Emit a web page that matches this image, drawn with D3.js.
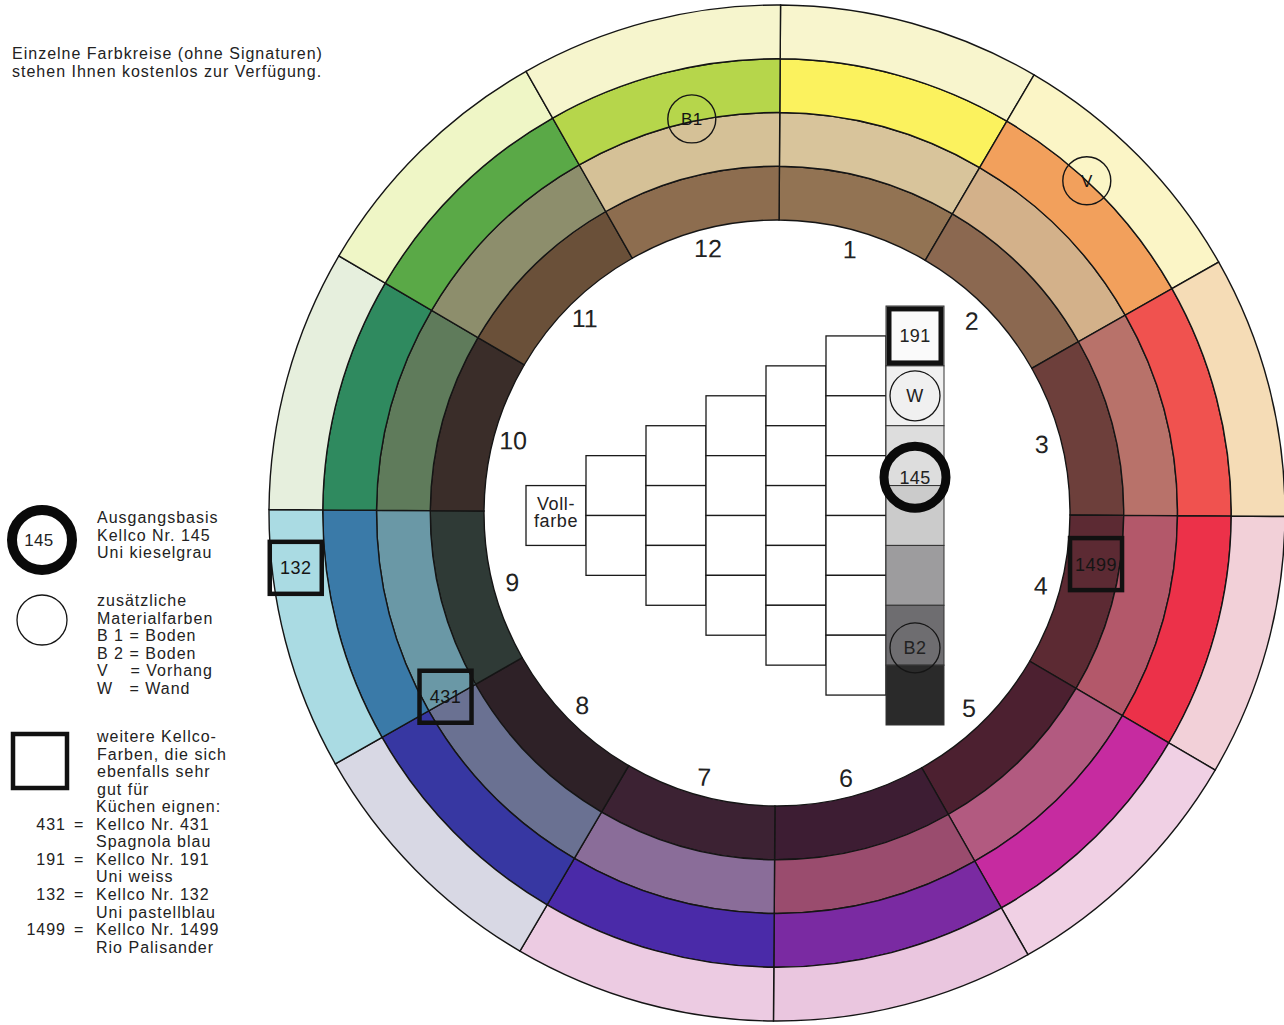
<!DOCTYPE html>
<html>
<head>
<meta charset="utf-8">
<script src="https://cdn.jsdelivr.net/npm/d3@7"></script>
<style>
  body { margin: 0; background: #fff; }
  text { font-family: "Liberation Sans", Arial, sans-serif; fill: #222; }
</style>
</head>
<body>
<div id="chart"></div>
<script>
/* globals d3 */
// segment labels, clockwise from the top
var hourLabels = ['1', '2', '3', '4', '5', '6', '7', '8', '9', '10', '11', '12'];

// ring colours, one per segment (inner ring first)
var darkColors   = ['#927353', '#8b6850', '#6d3f3b', '#5c2a33', '#4c2030', '#3d1d33', '#3c2233', '#2e2127', '#2f3a36', '#3a2d29', '#6a5039', '#8d6d4f'];
var mutedColors  = ['#d8c49b', '#d3b18a', '#b8726a', '#b3586a', '#b25a80', '#9a4c6e', '#8a6d99', '#6a7192', '#6a98a6', '#5f7b5b', '#8d8e6c', '#d5c197'];
var fullColors   = ['#fbf25e', '#f2a05c', '#f0524f', '#ec3149', '#c62ba0', '#7a2aa2', '#4a2aa8', '#3737a2', '#3a7aa8', '#2f8a5f', '#5aa947', '#b6d64b'];
var pastelColors = ['#f8f5cd', '#fbf5c6', '#f5dcb6', '#f2d0d8', '#f0d0e4', '#eac6df', '#eccbe2', '#d8d8e4', '#aadbe3', '#e6efdd', '#eff6c6', '#f6f5cd'];
var rings = [darkColors, mutedColors, fullColors, pastelColors];

// grey scale of the stair
var greySteps = ['#f9f9f9', '#f0f0f0', '#dddddd', '#cbcbcb', '#9d9c9e', '#6e6d70', '#2a2a2a'];
var stairCounts = [1, 2, 3, 4, 5, 6];

// signatures on the wheel: hour position, ring position
var wheelMarks = [
  {label: 'B1', shape: 'circle', hour: 11.58, ring: 2.05},
  {label: 'V', shape: 'circle', hour: 1.42, ring: 3.0},
  {label: '132', shape: 'square', hour: 8.77, ring: 3.56},
  {label: '431', shape: 'square', hour: 8.02, ring: 1.6},
  {label: '1499', shape: 'square', hour: 3.29, ring: 0.56}
];
// signatures on the grey scale: step position
var greyMarks = [
  {label: '191', shape: 'square', step: 0.5},
  {label: 'W', shape: 'circle', step: 1.5},
  {label: '145', shape: 'ring', step: 2.86},
  {label: 'B2', shape: 'circle', step: 5.71}
];

var W = 1284, H = 1025;
var svg = d3.select('#chart').append('svg')
    .attr('width', W).attr('height', H);

// ---- wheel ----
var cx = 777, cy = 513;
var angle = d3.scaleLinear().domain([0, 12]).range([0, 2 * Math.PI]);
var radius = d3.scaleLinear().domain([0, 4]).range([293, 508]);

var wheel = svg.append('g')
    .attr('transform', 'translate(' + cx + ',' + cy + ') rotate(0.4)');

var arc = d3.arc();
rings.forEach(function(colors, r){
  wheel.selectAll(null)
    .data(colors)
    .enter().append('path')
    .attr('d', function(c, i){
      return arc({innerRadius: radius(r), outerRadius: radius(r + 1),
                  startAngle: angle(i), endAngle: angle(i + 1)});
    })
    .attr('fill', function(c){ return c; })
    .attr('stroke', '#151515')
    .attr('stroke-width', 1.4);
});

// hour numbers
var labelR = radius(-0.36);
wheel.selectAll('.hour')
  .data(hourLabels)
  .enter().append('text')
  .attr('class', 'hour')
  .attr('x', function(d, i){ return labelR * Math.sin(angle(i + 0.5)); })
  .attr('y', function(d, i){ return -labelR * Math.cos(angle(i + 0.5)) + 9; })
  .attr('text-anchor', 'middle')
  .attr('font-size', 25)
  .text(function(d){ return d; });

function polar(h, r){
  var a = angle(h), rr = radius(r);
  return [rr * Math.sin(a), -rr * Math.cos(a)];
}

var wm = wheel.selectAll('.wmark').data(wheelMarks).enter().append('g')
  .attr('class', 'wmark')
  .attr('transform', function(d){ var p = polar(d.hour, d.ring); return 'translate(' + p[0] + ',' + p[1] + ') rotate(-0.4)'; });
wm.filter(function(d){ return d.shape === 'circle'; })
  .append('circle').attr('r', 24).attr('fill', 'none').attr('stroke', '#151515').attr('stroke-width', 1.4);
wm.filter(function(d){ return d.shape === 'square'; })
  .append('rect').attr('x', -26).attr('y', -26).attr('width', 52).attr('height', 52)
  .attr('fill', 'none').attr('stroke', '#111').attr('stroke-width', 4.5);
wm.append('text')
  .attr('text-anchor', 'middle').attr('y', 6.5)
  .attr('font-size', function(d){ return d.shape === 'square' ? 18 : 17; })
  .attr('letter-spacing', 0.5)
  .style('fill', '#151515')
  .text(function(d){ return d.label; });

// ---- stair of boxes ----
var colX = d3.scaleLinear().domain([0, 7]).range([526, 946]);
var rowY = d3.scaleLinear().domain([-3.5, 3.5]).range([306, 725]);
var stair = svg.append('g');

stairCounts.forEach(function(n, k){
  stair.selectAll(null)
    .data(d3.range(n))
    .enter().append('rect')
    .attr('x', colX(k))
    .attr('y', function(j){ return rowY(-n / 2 + j); })
    .attr('width', colX(k + 1) - colX(k))
    .attr('height', rowY(1) - rowY(0))
    .attr('fill', '#fff')
    .attr('stroke', '#1a1a1a')
    .attr('stroke-width', 1.3);
});

var gx = colX(6), gw = colX(7) - colX(6) - 2;
stair.selectAll('.grey')
  .data(greySteps)
  .enter().append('rect')
  .attr('class', 'grey')
  .attr('x', gx)
  .attr('y', function(d, j){ return rowY(-3.5 + j); })
  .attr('width', gw)
  .attr('height', rowY(1) - rowY(0))
  .attr('fill', function(d){ return d; })
  .attr('stroke', '#333')
  .attr('stroke-width', 1);

stair.append('text').attr('x', colX(0.5)).attr('y', rowY(-0.1)).attr('text-anchor', 'middle')
  .attr('font-size', 18).attr('letter-spacing', 0.6).text('Voll-');
stair.append('text').attr('x', colX(0.5)).attr('y', rowY(0.2)).attr('text-anchor', 'middle')
  .attr('font-size', 18).attr('letter-spacing', 0.6).text('farbe');

var gm = stair.selectAll('.gmark').data(greyMarks).enter().append('g')
  .attr('transform', function(d){ return 'translate(' + (gx + gw / 2) + ',' + rowY(-3.5 + d.step) + ')'; });
gm.filter(function(d){ return d.shape === 'circle'; })
  .append('circle').attr('r', 25).attr('fill', 'none').attr('stroke', '#151515').attr('stroke-width', 1.3);
gm.filter(function(d){ return d.shape === 'ring'; })
  .append('circle').attr('r', 31).attr('fill', 'none').attr('stroke', '#0a0a0a').attr('stroke-width', 9);
gm.filter(function(d){ return d.shape === 'square'; })
  .append('rect').attr('x', -26).attr('y', -27).attr('width', 52).attr('height', 54)
  .attr('fill', '#fafafa').attr('stroke', '#111').attr('stroke-width', 5);
gm.append('text').attr('text-anchor', 'middle').attr('y', 6.5)
  .attr('font-size', 18).attr('letter-spacing', 0.4)
  .text(function(d){ return d.label; });

// ---- notes on the left ----
var notes = svg.append('g').attr('font-size', 16).attr('letter-spacing', 1);
function lines(x, y0, rows, anchor){
  notes.selectAll(null).data(rows).enter().append('text')
    .attr('x', x).attr('y', function(d, i){ return y0 + i * 17.6; })
    .attr('text-anchor', anchor || 'start')
    .attr('xml:space', 'preserve')
    .text(function(d){ return d; });
}
lines(12, 59, ['Einzelne Farbkreise (ohne Signaturen)', 'stehen Ihnen kostenlos zur Verfügung.']);

notes.append('circle').attr('cx', 42).attr('cy', 540).attr('r', 30)
  .attr('fill', 'none').attr('stroke', '#0a0a0a').attr('stroke-width', 10);
notes.append('text').attr('x', 39).attr('y', 546).attr('text-anchor', 'middle')
  .attr('font-size', 17).attr('letter-spacing', 0.3).text('145');
lines(97, 523, ['Ausgangsbasis', 'Kellco Nr. 145', 'Uni kieselgrau']);

notes.append('circle').attr('cx', 42).attr('cy', 620).attr('r', 25)
  .attr('fill', 'none').attr('stroke', '#151515').attr('stroke-width', 1.3);
lines(97, 606, ['zusätzliche', 'Materialfarben', 'B 1 = Boden', 'B 2 = Boden', 'V    = Vorhang', 'W   = Wand']);

notes.append('rect').attr('x', 13).attr('y', 734).attr('width', 54).attr('height', 54)
  .attr('fill', 'none').attr('stroke', '#111').attr('stroke-width', 4.5);
lines(97, 742, ['weitere Kellco-', 'Farben, die sich', 'ebenfalls sehr', 'gut für']);
lines(96, 812, ['Küchen eignen:', 'Kellco Nr. 431', 'Spagnola blau', 'Kellco Nr. 191', 'Uni weiss',
                'Kellco Nr. 132', 'Uni pastellblau', 'Kellco Nr. 1499', 'Rio Palisander']);
lines(66, 829.6, ['431', '', '191', '', '132', '', '1499'], 'end');
lines(74, 829.6, ['=', '', '=', '', '=', '', '=']);
</script>
</body>
</html>
